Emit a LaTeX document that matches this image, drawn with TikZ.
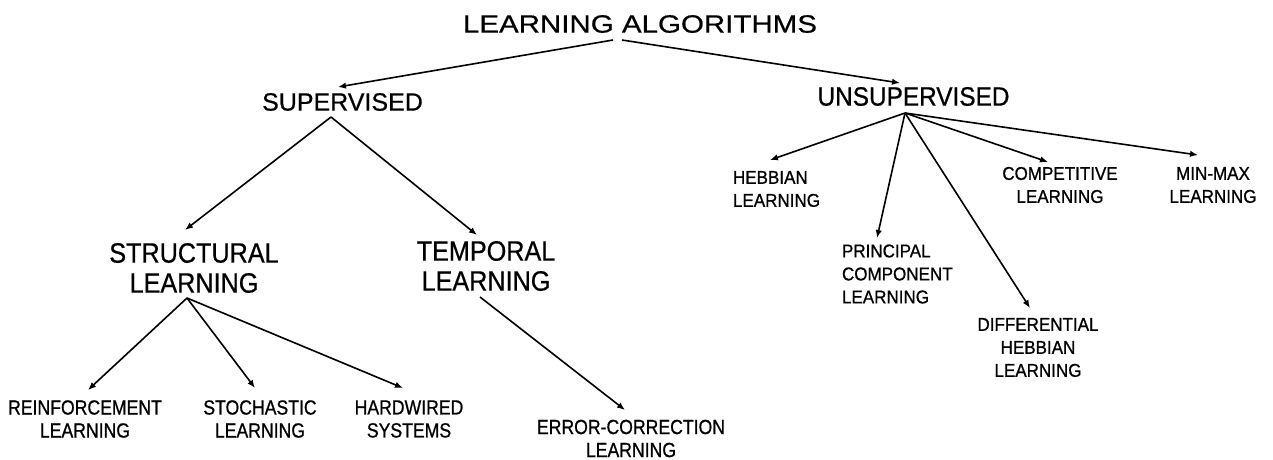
\documentclass[tikz,border=0pt]{standalone}
\usepackage{fontspec}
\setmainfont{Liberation Sans}
\newfontfamily\fA[FakeStretch=1.18,FakeBold=0.6]{Liberation Sans}
\newfontfamily\fB[FakeBold=0.6]{Liberation Sans}
\newfontfamily\fC[FakeStretch=0.92,FakeBold=0.8]{Liberation Sans}
\newfontfamily\fD[FakeStretch=0.86,FakeBold=0.8]{Liberation Sans}
\newfontfamily\fE[FakeStretch=0.90,FakeBold=0.6]{Liberation Sans}
\usetikzlibrary{arrows.meta,calc}
\tikzset{
  lbl/.style={inner sep=0pt, outer sep=0pt, align=center},
  lblL/.style={inner sep=0pt, outer sep=0pt, align=left, anchor=west},
  ftitle/.style={font={\fA\fontsize{25}{28}\selectfont}},
  fsup/.style={font={\fB\fontsize{25}{28}\selectfont}},
  funs/.style={font={\fC\fontsize{26.5}{29}\selectfont}},
  fbig/.style={font={\fE\fontsize{28}{30}\selectfont}},
  fsmall/.style={font={\fD\fontsize{20.5}{23}\selectfont}},
  fright/.style={font={\fC\fontsize{18.5}{23}\selectfont}},
  arr/.style={line width=1.6pt, -{Latex[length=8pt,width=6.5pt]}}
}
\begin{document}
\begin{tikzpicture}[x=1pt,y=-1pt]
\useasboundingbox (0,0) rectangle (1273,459);
% nodes
\node[lbl,ftitle] (T) at (640,24) {LEARNING ALGORITHMS};
\node[lbl,fsup] (SUP) at (342.5,102) {SUPERVISED};
\node[lbl,funs] (UNS) at (913.5,96.5) {UNSUPERVISED};
\node[lbl,fbig] (STR) at (194,268) {STRUCTURAL\\LEARNING};
\node[lbl,fbig] (TEM) at (486,266) {TEMPORAL\\LEARNING};
\node[lbl,fsmall] (REI) at (85,419) {REINFORCEMENT\\LEARNING};
\node[lbl,fsmall] (STO) at (260,419) {STOCHASTIC\\LEARNING};
\node[lbl,fsmall] (HAR) at (409,419) {HARDWIRED\\SYSTEMS};
\node[lbl,fsmall] (ERR) at (631,438.5) {ERROR-CORRECTION\\LEARNING};
\node[lblL,fright] (HEB) at (733,189) {HEBBIAN\\LEARNING};
\node[lblL,fright] (PRI) at (842,274) {PRINCIPAL\\COMPONENT\\LEARNING};
\node[lbl,fright] (DIF) at (1038,347.5) {DIFFERENTIAL\\HEBBIAN\\LEARNING};
\node[lbl,fright] (COM) at (1060,185) {COMPETITIVE\\LEARNING};
\node[lbl,fright] (MIN) at (1213,185) {MIN-MAX\\LEARNING};
% connectors
\draw[arr] ($(T)+(-27,16)$) -- ($(SUP)+(-4.5,-15)$);
\draw[arr] ($(T)+(-18,16)$) -- ($(UNS)+(-13.5,-13.5)$);
\draw[arr] ($(SUP)+(-11.5,15)$) -- ($(STR)+(-9,-38)$);
\draw[arr] ($(SUP)+(-11.5,15)$) -- ($(TEM)+(-9,-31)$);
\draw[arr] ($(STR)+(-7,30)$) -- ($(REI)+(3,-29)$);
\draw[arr] ($(STR)+(-7,30)$) -- ($(STO)+(-5,-31)$);
\draw[arr] ($(STR)+(-7,30)$) -- ($(HAR)+(-6,-31)$);
\draw[arr] ($(TEM)+(-6,31)$) -- ($(ERR)+(-6,-28.5)$);
\draw[arr] ($(UNS)+(-8.5,16.5)$) -- ($(HEB.west)+(37,-29)$);
\draw[arr] ($(UNS)+(-8.5,16.5)$) -- ($(PRI.west)+(35,-36)$);
\draw[arr] ($(UNS)+(-8.5,16.5)$) -- ($(DIF)+(-8,-39.5)$);
\draw[arr] ($(UNS)+(-8.5,16.5)$) -- ($(COM)+(-12,-23)$);
\draw[arr] ($(UNS)+(-8.5,16.5)$) -- ($(MIN)+(-15,-30)$);
\end{tikzpicture}
\end{document}
